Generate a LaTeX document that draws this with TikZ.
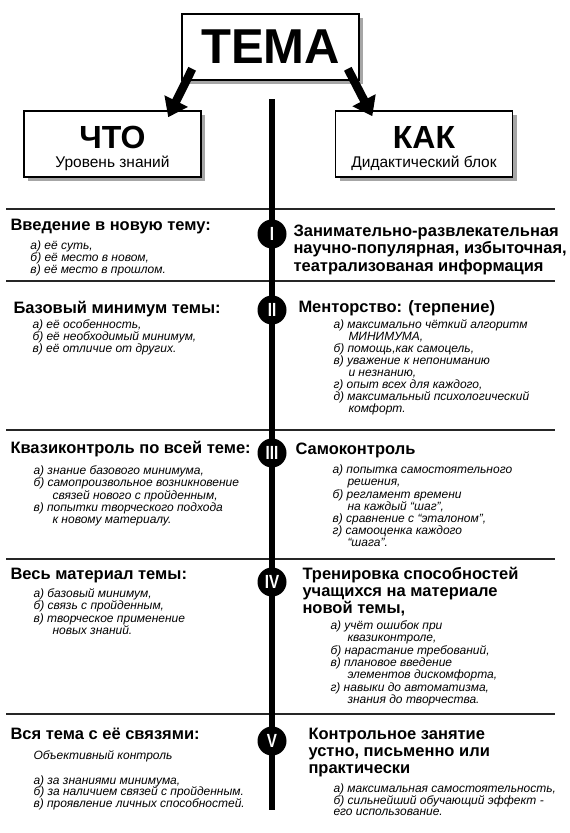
\documentclass[tikz,border=0pt]{standalone}
\usepackage{fontspec}
\setmainfont{Liberation Sans}
\usetikzlibrary{arrows.meta,shadows,calc}
\tikzset{
    box/.style={draw=black, line width=1.6pt, fill=white, inner sep=0pt,
        minimum width=177pt, minimum height=66pt, align=center,
        drop shadow={shadow xshift=4pt, shadow yshift=-4pt, fill=black!35, opacity=1}},
    boxtitle/.style={anchor=base, inner sep=0pt, font=\bfseries\fontsize{32}{32}\selectfont},
    boxsub/.style={anchor=base, inner sep=0pt, font=\fontsize{15.5}{19}\selectfont},
    bigarrow/.style={draw=black, line width=8.5pt, -{Triangle[length=18pt,width=25pt]}},
    axis/.style={draw=black, line width=5.5pt},
    rule/.style={draw=black!85, line width=2pt},
    stage/.style={circle, fill=black, minimum size=29pt, inner sep=0pt, text=white,
        font=\bfseries\fontsize{19}{19}\selectfont},
    head/.style={anchor=north west, inner sep=0pt, align=left,
        font=\bfseries\fontsize{16.5}{17.5}\selectfont},
    items/.style={anchor=north west, inner sep=0pt, align=left,
        font=\itshape\fontsize{12}{12.3}\selectfont},
}
\newcommand\rn[1]{\scalebox{.8}[1]{#1}}
\newcommand\ind{\hspace*{15pt}}

\begin{document}
\begin{tikzpicture}[x=1pt,y=-1pt,line width=1pt]
\useasboundingbox (0,0) rectangle (570,833);

\node[box, font=\bfseries\fontsize{49}{49}\selectfont] (tema) at (270.5,47) {ТЕМА};
\node[box] (chto) at (112.5,144) {};
\node[boxtitle] (chtotitle) at (112.5,148) {ЧТО};
\node[boxsub] (chtosub) at (112.5,167) {Уровень знаний};
\node[box] (kak) at (424,144) {};
\node[boxtitle] (kaktitle) at (424,148) {КАК};
\node[boxsub] (kaksub) at (424,167) {Дидактический блок};

\draw [bigarrow] ($(tema.south west)+(11,-12)$) -- ($(chto.north west)+(145,7)$);
\draw [bigarrow] ($(tema.south east)+(-12,-12)$) -- ($(kak.north east)+(-141,6)$);

\foreach \y in {209,281,430,559,714}
    \draw [rule] (6,\y) -- (555,\y);

\coordinate (axistop) at (272,99);
\coordinate (axisbot) at (272,810);
\draw [axis] (axistop) -- (axisbot);

\node[stage] (s1) at (272,234) {\rn{I}};
\node[stage] (s2) at (272,310) {\rn{II}};
\node[stage] (s3) at (272,453) {\rn{III}};
\node[stage] (s4) at (272,582) {\rn{IV}};
\node[stage] (s5) at (272,741) {\rn{V}};

% ЧТО
\node[head] (what1) at (10,218.5) {Введение в новую тему:};
\node[items] (what1i) at (30,240) {а) её суть,\\б) её место в новом,\\в) её место в прошлом.};
\node[head] (what2) at (13,300.5) {Базовый минимум темы:};
\node[items] (what2i) at (32,319) {а) её особенность,\\б) её необходимый минимум,\\в) её отличие от других.};
\node[head] (what3) at (10,440.5) {Квазиконтроль по всей теме:};
\node[items, font=\itshape\fontsize{12}{12.4}\selectfont] (what3i) at (33,465)
    {а) знание базового минимума,\\б) самопроизвольное возникновение\\\hspace*{19pt}связей нового с пройденным,\\в) попытки творческого подхода\\\hspace*{19pt}к новому материалу.};
\node[head] (what4) at (10,567.5) {Весь материал темы:};
\node[items, font=\itshape\fontsize{12}{12.5}\selectfont] (what4i) at (33,588)
    {а) базовый минимум,\\б) связь с пройденным,\\в) творческое применение\\\hspace*{19pt}новых знаний.};
\node[head] (what5) at (10,727.5) {Вся тема с её связями:};
\node[items, font=\itshape\fontsize{12}{11.8}\selectfont] (what5i) at (33,750)
    {Объективный контроль\\[13pt]а) за знаниями минимума,\\б) за наличием связей с пройденным.\\в) проявление личных способностей.};

% КАК
\node[head] (how1) at (293,224) {Занимательно-развлекательная\\научно-популярная, избыточная,\\театрализованая информация};
\node[head] (how2) at (298,300.5) {Менторство: (терпение)};
\node[items, font=\itshape\fontsize{12}{12}\selectfont] (how2i) at (333,319)
    {а) максимально чёткий алгоритм\\\ind МИНИМУМА,\\б) помощь,как самоцель,\\в) уважение к непониманию\\\ind и незнанию,\\г) опыт всех для каждого,\\д) максимальный психологический\\\ind комфорт.};
\node[head] (how3) at (295,442) {Самоконтроль};
\node[items, font=\itshape\fontsize{12}{12.2}\selectfont] (how3i) at (332,464.5)
    {а) попытка самостоятельного\\\ind решения,\\б) регламент времени\\\ind на каждый “шаг”,\\в) сравнение с “эталоном”,\\г) самооценка каждого\\\ind “шага”.};
\node[head, font=\bfseries\fontsize{16.5}{17}\selectfont] (how4) at (302,566.5)
    {Тренировка способностей\\учащихся на материале\\новой темы,};
\node[items, font=\itshape\fontsize{12}{12.4}\selectfont] (how4i) at (330,620)
    {а) учёт ошибок при\\\hspace*{17pt}квазиконтроле,\\б) нарастание требований,\\в) плановое введение\\\hspace*{17pt}элементов дискомфорта,\\г) навыки до автоматизма,\\\hspace*{17pt}знания до творчества.};
\node[head, font=\bfseries\fontsize{16.5}{17.3}\selectfont] (how5) at (308,727.5)
    {Контрольное занятие\\устно, письменно или\\практически};
\node[items, font=\itshape\fontsize{12}{11.6}\selectfont] (how5i) at (333,783.5)
    {а) максимальная самостоятельность,\\б) сильнейший обучающий эффект -\\его использование.};
\end{tikzpicture}
\end{document}
